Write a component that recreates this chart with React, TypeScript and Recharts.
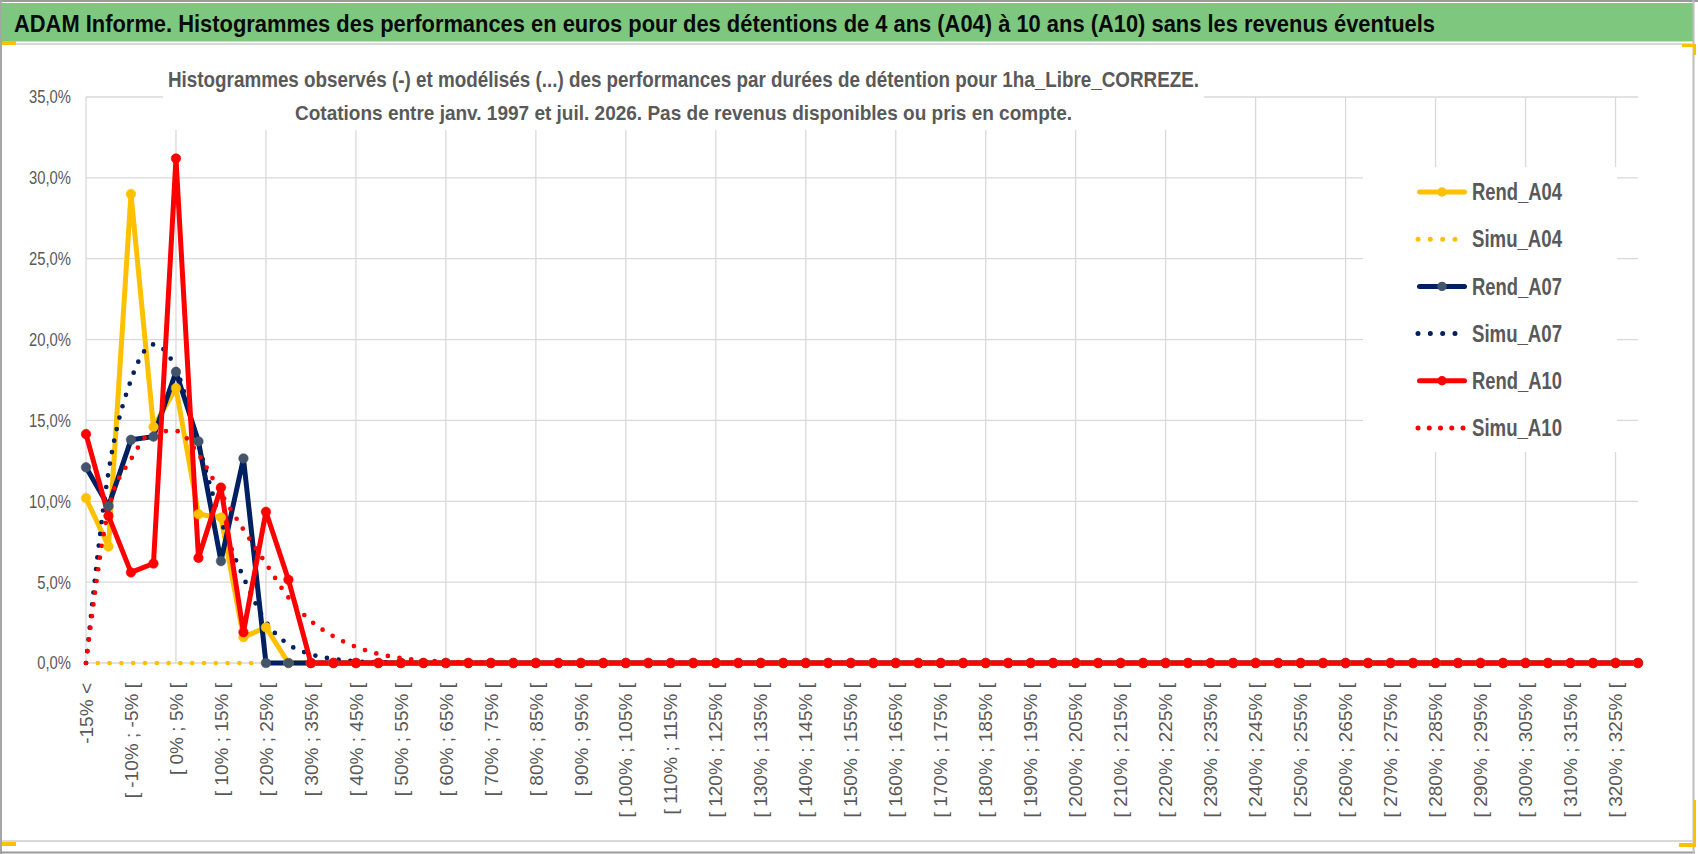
import React from "react";
import { LineChart, Line, XAxis, YAxis, CartesianGrid, Legend } from "recharts";

const TITLE =
  "ADAM Informe. Histogrammes des performances en euros pour des détentions de 4 ans (A04) à 10 ans (A10) sans les revenus éventuels";
const SUBTITLE_1 =
  "Histogrammes observés (-) et modélisés (...) des performances par durées de détention pour 1ha_Libre_CORREZE.";
const SUBTITLE_2 =
  "Cotations entre janv. 1997 et juil. 2026. Pas de revenus disponibles ou pris en compte.";

const categories = [
  "-15% <", "[ -15% ; -10% [", "[ -10% ; -5% [", "[ -5% ; 0% [", "[ 0% ; 5% [",
  "[ 5% ; 10% [", "[ 10% ; 15% [", "[ 15% ; 20% [", "[ 20% ; 25% [", "[ 25% ; 30% [",
  "[ 30% ; 35% [", "[ 35% ; 40% [", "[ 40% ; 45% [", "[ 45% ; 50% [", "[ 50% ; 55% [",
  "[ 55% ; 60% [", "[ 60% ; 65% [", "[ 65% ; 70% [", "[ 70% ; 75% [", "[ 75% ; 80% [",
  "[ 80% ; 85% [", "[ 85% ; 90% [", "[ 90% ; 95% [", "[ 95% ; 100% [", "[ 100% ; 105% [",
  "[ 105% ; 110% [", "[ 110% ; 115% [", "[ 115% ; 120% [", "[ 120% ; 125% [", "[ 125% ; 130% [",
  "[ 130% ; 135% [", "[ 135% ; 140% [", "[ 140% ; 145% [", "[ 145% ; 150% [", "[ 150% ; 155% [",
  "[ 155% ; 160% [", "[ 160% ; 165% [", "[ 165% ; 170% [", "[ 170% ; 175% [", "[ 175% ; 180% [",
  "[ 180% ; 185% [", "[ 185% ; 190% [", "[ 190% ; 195% [", "[ 195% ; 200% [", "[ 200% ; 205% [",
  "[ 205% ; 210% [", "[ 210% ; 215% [", "[ 215% ; 220% [", "[ 220% ; 225% [", "[ 225% ; 230% [",
  "[ 230% ; 235% [", "[ 235% ; 240% [", "[ 240% ; 245% [", "[ 245% ; 250% [", "[ 250% ; 255% [",
  "[ 255% ; 260% [", "[ 260% ; 265% [", "[ 265% ; 270% [", "[ 270% ; 275% [", "[ 275% ; 280% [",
  "[ 280% ; 285% [", "[ 285% ; 290% [", "[ 290% ; 295% [", "[ 295% ; 300% [", "[ 300% ; 305% [",
  "[ 305% ; 310% [", "[ 310% ; 315% [", "[ 315% ; 320% [", "[ 320% ; 325% [", "[ 325% ; 330% [",
];

// values in percent
const rendA04 = [
  10.2, 7.2, 29.0, 14.6, 17.0, 9.2, 9.0, 1.6, 2.2, 0,
  0, 0, 0, 0, 0, 0, 0, 0, 0, 0,
  0, 0, 0, 0, 0, 0, 0, 0, 0, 0,
  0, 0, 0, 0, 0, 0, 0, 0, 0, 0,
  0, 0, 0, 0, 0, 0, 0, 0, 0, 0,
  0, 0, 0, 0, 0, 0, 0, 0, 0, 0,
  0, 0, 0, 0, 0, 0, 0, 0, 0, 0,
];
const simuA04 = [
  0, 0, 0, 0, 0, 0, 0, 0, 0, 0,
  0, 0, 0, 0, 0, 0, 0, 0, 0, 0,
  0, 0, 0, 0, 0, 0, 0, 0, 0, 0,
  0, 0, 0, 0, 0, 0, 0, 0, 0, 0,
  0, 0, 0, 0, 0, 0, 0, 0, 0, 0,
  0, 0, 0, 0, 0, 0, 0, 0, 0, 0,
  0, 0, 0, 0, 0, 0, 0, 0, 0, 0,
];
const rendA07 = [
  12.1, 9.7, 13.8, 14.0, 18.0, 13.7, 6.3, 12.65, 0, 0,
  0, 0, 0, 0, 0, 0, 0, 0, 0, 0,
  0, 0, 0, 0, 0, 0, 0, 0, 0, 0,
  0, 0, 0, 0, 0, 0, 0, 0, 0, 0,
  0, 0, 0, 0, 0, 0, 0, 0, 0, 0,
  0, 0, 0, 0, 0, 0, 0, 0, 0, 0,
  0, 0, 0, 0, 0, 0, 0, 0, 0, 0,
];
const simuA07 = [
  0, 11.8, 17.5, 19.7, 18.2, 13.5, 8.8, 5.3, 2.55, 1.15,
  0.54, 0.25, 0.1, 0.05, 0.02, 0, 0, 0, 0, 0,
  0, 0, 0, 0, 0, 0, 0, 0, 0, 0,
  0, 0, 0, 0, 0, 0, 0, 0, 0, 0,
  0, 0, 0, 0, 0, 0, 0, 0, 0, 0,
  0, 0, 0, 0, 0, 0, 0, 0, 0, 0,
  0, 0, 0, 0, 0, 0, 0, 0, 0, 0,
];
const rendA10 = [
  14.15, 9.1, 5.6, 6.15, 31.2, 6.5, 10.85, 1.9, 9.35, 5.15,
  0, 0, 0, 0, 0, 0, 0, 0, 0, 0,
  0, 0, 0, 0, 0, 0, 0, 0, 0, 0,
  0, 0, 0, 0, 0, 0, 0, 0, 0, 0,
  0, 0, 0, 0, 0, 0, 0, 0, 0, 0,
  0, 0, 0, 0, 0, 0, 0, 0, 0, 0,
  0, 0, 0, 0, 0, 0, 0, 0, 0, 0,
];
const simuA10 = [
  0, 9.5, 12.6, 14.3, 14.35, 12.9, 10.5, 8.25, 6.15, 4.05,
  2.6, 1.65, 1.0, 0.56, 0.31, 0.16, 0.08, 0.04, 0.02, 0,
  0, 0, 0, 0, 0, 0, 0, 0, 0, 0,
  0, 0, 0, 0, 0, 0, 0, 0, 0, 0,
  0, 0, 0, 0, 0, 0, 0, 0, 0, 0,
  0, 0, 0, 0, 0, 0, 0, 0, 0, 0,
  0, 0, 0, 0, 0, 0, 0, 0, 0, 0,
];

const yTicks = [0, 5, 10, 15, 20, 25, 30, 35];

const data = categories.map((cat, i) => ({
  cat,
  rendA04: rendA04[i],
  simuA04: simuA04[i],
  rendA07: rendA07[i],
  simuA07: simuA07[i],
  rendA10: rendA10[i],
  simuA10: simuA10[i],
}));

type Serie = { key: string; name: string; color: string; marker?: string; dotted: boolean };
const series: Serie[] = [
  { key: "rendA04", name: "Rend_A04", color: "#FFC000", marker: "#FFC000", dotted: false },
  { key: "simuA04", name: "Simu_A04", color: "#FFC000", dotted: true },
  { key: "rendA07", name: "Rend_A07", color: "#002060", marker: "#44546A", dotted: false },
  { key: "simuA07", name: "Simu_A07", color: "#002060", dotted: true },
  { key: "rendA10", name: "Rend_A10", color: "#FF0000", marker: "#FF0000", dotted: false },
  { key: "simuA10", name: "Simu_A10", color: "#FF0000", dotted: true },
];

const FONT = "'Liberation Sans', Arial, sans-serif";
const GRID = "#d9d9d9";
const TEXT_GRAY = "#595959";

const fmtPct = (v: number) => v.toFixed(1).replace(".", ",") + "%";

const XTick = (props: any) => {
  const { x, y, payload } = props;
  return (
    <g transform={`translate(${x},${y}) rotate(-90) scale(1.03,1)`}>
      <text x={0} y={0} dy="0.36em" textAnchor="end" fontSize={18.5} fill={TEXT_GRAY} fontFamily={FONT}>
        {payload.value}
      </text>
    </g>
  );
};

const YTick = (props: any) => {
  const { x, y, payload } = props;
  return (
    <g transform={`translate(${x},${y}) scale(0.8,1)`}>
      <text x={0} y={0} dy="0.35em" textAnchor="end" fontSize={18.5} fill={TEXT_GRAY} fontFamily={FONT}>
        {fmtPct(payload.value)}
      </text>
    </g>
  );
};

const renderLegend = () => (
  <svg width={254} height={285} style={{ display: "block" }}>
    {series.map((s, i) => {
      const cy = 25 + i * 47.2;
      const isA10 = s.key === "simuA10";
      return (
        <g key={s.key}>
          {s.dotted ? (
            <line
              x1={55}
              x2={isA10 ? 100.1 : 92.1}
              y1={cy}
              y2={cy}
              stroke={s.color}
              strokeWidth={5}
              strokeLinecap="round"
              strokeDasharray={isA10 ? "0 11.25" : "0 12.33"}
            />
          ) : (
            <g>
              <line x1={56.5} x2={101.5} y1={cy} y2={cy} stroke={s.color} strokeWidth={5} strokeLinecap="round" />
              <circle cx={79} cy={cy} r={4.7} fill={s.marker} />
            </g>
          )}
          <text
            x={109}
            y={cy}
            dy="0.36em"
            fontSize={23}
            fontWeight="bold"
            fill={TEXT_GRAY}
            fontFamily={FONT}
            textLength={90}
            lengthAdjust="spacingAndGlyphs"
          >
            {s.name}
          </text>
        </g>
      );
    })}
  </svg>
);

const verticalGen = (args: any) => {
  const { xAxis, offset } = args || {};
  const idx = categories.map((_, i) => i).filter((i) => i % 4 === 0);
  if (xAxis && typeof xAxis.scale === "function") {
    const pts = idx.map((i) => xAxis.scale(categories[i]));
    if (pts.every((p: any) => typeof p === "number" && !isNaN(p))) return pts;
  }
  const step = offset.width / (categories.length - 1);
  return idx.map((i) => offset.left + i * step);
};

export default function App() {
  return (
    <div
      style={{
        position: "absolute",
        left: 0,
        top: 0,
        width: 1698,
        height: 854,
        background: "#fff",
        overflow: "hidden",
        fontFamily: FONT,
      }}
    >
      <LineChart width={1698} height={854} data={data} margin={{ top: 97, right: 60, bottom: 0, left: 0 }}>
        <CartesianGrid stroke={GRID} strokeWidth={1.3} verticalCoordinatesGenerator={verticalGen} />
        <XAxis
          dataKey="cat"
          scale="point"
          padding={{ left: 0, right: 0 }}
          interval={1}
          height={191}
          tickSize={0}
          tickMargin={20}
          tickLine={false}
          axisLine={false}
          tick={<XTick />}
        />
        <YAxis
          type="number"
          domain={[0, 35]}
          ticks={yTicks}
          width={86}
          tickSize={0}
          tickMargin={15}
          tickLine={false}
          axisLine={false}
          tick={<YTick />}
        />
        <Legend
          layout="horizontal"
          verticalAlign="middle"
          align="center"
          width={254}
          height={285}
          content={renderLegend}
          wrapperStyle={{ left: 1363, top: 167, width: 254, height: 285, background: "#fff" }}
        />
        {series.map((s) =>
          s.dotted ? (
            <Line
              key={s.key}
              dataKey={s.key}
              name={s.name}
              type="monotone"
              stroke={s.color}
              strokeWidth={4.7}
              strokeLinecap="round"
              strokeDasharray="0 11.8"
              dot={false}
              activeDot={false}
              isAnimationActive={false}
            />
          ) : (
            <Line
              key={s.key}
              dataKey={s.key}
              name={s.name}
              type="linear"
              stroke={s.color}
              strokeWidth={5}
              strokeLinejoin="round"
              dot={{ r: 4.8, fill: s.marker, stroke: s.marker, strokeWidth: 0.5 }}
              activeDot={false}
              isAnimationActive={false}
            />
          )
        )}
      </LineChart>

      <svg
        width={1698}
        height={854}
        style={{ position: "absolute", left: 0, top: 0, pointerEvents: "none" }}
      >
        {/* title bar */}
        <rect x={2} y={3} width={1691} height={38.5} fill="#7dc87e" />
        <text
          x={14}
          y={31.5}
          fontSize={23.5}
          fontWeight="bold"
          fill="#0a0a0a"
          fontFamily={FONT}
          textLength={1421}
          lengthAdjust="spacingAndGlyphs"
        >
          {TITLE}
        </text>

        {/* subtitle box */}
        <rect x={163} y={48} width={1041} height={82} fill="#fff" />
        <text
          x={168}
          y={87}
          fontSize={21.5}
          fontWeight="bold"
          fill={TEXT_GRAY}
          fontFamily={FONT}
          textLength={1031}
          lengthAdjust="spacingAndGlyphs"
        >
          {SUBTITLE_1}
        </text>
        <text
          x={295}
          y={120}
          fontSize={21}
          fontWeight="bold"
          fill={TEXT_GRAY}
          fontFamily={FONT}
          textLength={777}
          lengthAdjust="spacingAndGlyphs"
        >
          {SUBTITLE_2}
        </text>

        {/* frame */}
        <line x1={0} x2={1698} y1={1} y2={1} stroke="#9a9a9a" strokeWidth={2} />
        <line x1={1} x2={1} y1={0} y2={854} stroke="#a6a6a6" strokeWidth={2} />
        <line x1={0} x2={1695} y1={852.5} y2={852.5} stroke="#9a9a9a" strokeWidth={2} />
        <line x1={1693.5} x2={1693.5} y1={0} y2={853} stroke="#bdbdbd" strokeWidth={2} />
        <line x1={2} x2={1693} y1={44} y2={44} stroke={GRID} strokeWidth={2} />
        <line x1={2} x2={1693} y1={841} y2={841} stroke={GRID} strokeWidth={2} />

        {/* selection marks */}
        <rect x={2} y={41} width={14} height={4} fill="#FFC000" />
        <rect x={2} y={842} width={14} height={4} fill="#FFC000" />
        <rect x={1682} y={44} width={14} height={3} fill="#FFC000" />
        <rect x={1693} y={44} width={3} height={11} fill="#FFC000" />
        <rect x={1679} y={843} width={17} height={4} fill="#FFC000" />
        <rect x={1693} y={800} width={3} height={47} fill="#FFC000" />
      </svg>
    </div>
  );
}
